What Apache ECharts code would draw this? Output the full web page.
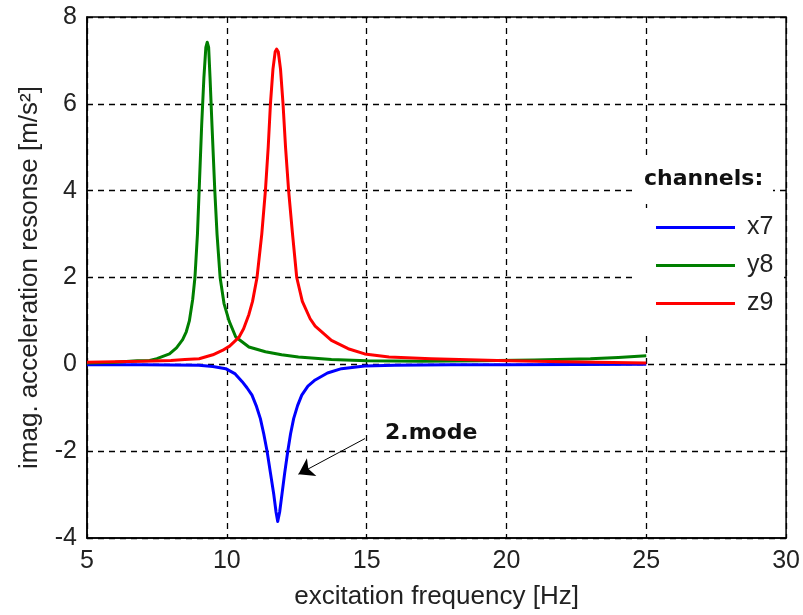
<!DOCTYPE html>
<html>
<head>
<meta charset="utf-8">
<script src="https://cdn.jsdelivr.net/npm/echarts@6/dist/echarts.min.js"></script>
<style>html,body{margin:0;padding:0;background:#fff}#c{width:803px;height:615px}</style>
</head>
<body>
<div id="c"></div>
<script>
var xTicks = [5, 10, 15, 20, 25, 30];
var yTicks = [-4, -2, 0, 2, 4, 6, 8];

var x7Freq = [5, 7, 8, 9, 9.5, 9.96, 10.3, 10.55, 10.72, 10.9, 11.05, 11.2, 11.32, 11.44, 11.56, 11.68, 11.76, 11.82, 11.89, 11.97, 12.07, 12.18, 12.28, 12.39, 12.53, 12.68, 12.9, 13.16, 13.6, 14.1, 14.93, 16, 18, 20, 25];
var x7Val  = [-0.01, -0.01, -0.015, -0.02, -0.05, -0.1, -0.22, -0.4, -0.54, -0.71, -0.95, -1.25, -1.6, -2.0, -2.5, -3.0, -3.4, -3.62, -3.4, -3.0, -2.5, -2.0, -1.6, -1.25, -0.95, -0.71, -0.5, -0.36, -0.2, -0.1, -0.04, -0.02, -0.01, -0.01, 0];

var y8Freq = [5, 6, 6.8, 7.24, 7.5, 7.95, 8.2, 8.42, 8.55, 8.66, 8.78, 8.86, 8.95, 9.01, 9.1, 9.18, 9.25, 9.3, 9.35, 9.4, 9.47, 9.57, 9.65, 9.76, 9.9, 10.08, 10.32, 10.79, 11.38, 11.96, 12.56, 13.74, 15, 17, 19, 21, 23, 24, 25];
var y8Val  = [0.03, 0.05, 0.08, 0.09, 0.13, 0.24, 0.38, 0.57, 0.75, 1.0, 1.5, 2.0, 3.0, 4.0, 5.5, 6.6, 7.3, 7.42, 7.3, 6.6, 5.5, 4.0, 3.0, 2.0, 1.4, 1.0, 0.63, 0.4, 0.29, 0.22, 0.17, 0.11, 0.08, 0.07, 0.08, 0.1, 0.13, 0.16, 0.2];

var z9Freq = [5, 6, 7, 8, 8.5, 9.01, 9.5, 9.84, 10.1, 10.43, 10.6, 10.79, 10.92, 11.08, 11.25, 11.38, 11.48, 11.56, 11.65, 11.73, 11.78, 11.84, 11.92, 12.01, 12.1, 12.21, 12.35, 12.5, 12.7, 12.98, 13.16, 13.74, 14.34, 14.93, 15.8, 17.3, 19.67, 22, 25];
var z9Val  = [0.05, 0.06, 0.07, 0.09, 0.11, 0.13, 0.22, 0.32, 0.42, 0.62, 0.82, 1.15, 1.45, 2.0, 3.0, 4.0, 5.0, 6.0, 6.8, 7.2, 7.26, 7.2, 6.8, 6.0, 5.0, 4.0, 3.0, 2.0, 1.45, 1.05, 0.88, 0.55, 0.36, 0.24, 0.17, 0.13, 0.09, 0.06, 0.03];

var seriesNames = ['x7', 'y8', 'z9'];
var seriesColors = ['#0000ff', '#007f00', '#ff0000'];

var arrowFrom = [14.94, -1.71];
var arrowTo = [12.56, -2.53];

function pairs(xs, ys) { return xs.map(function (x, i) { return [x, ys[i]]; }); }

var textColor = '#222';
var font = 'Liberation Sans';

var chart = echarts.init(document.getElementById('c'), null, {renderer: 'canvas'});
var datasets = [pairs(x7Freq, x7Val), pairs(y8Freq, y8Val), pairs(z9Freq, z9Val)];

var series = seriesNames.map(function (n, i) {
  var s = {
    name: n, type: 'line', data: datasets[i], showSymbol: false, symbol: 'none',
    lineStyle: {color: seriesColors[i], width: 3, join: 'round'}, itemStyle: {color: seriesColors[i]},
    z: 2, animation: false
  };
  if (i === 0) {
    s.markLine = {
      silent: true, animation: false, symbol: ['none', 'arrow'], symbolSize: 15,
      label: {show: false},
      lineStyle: {color: '#000', width: 1, type: 'solid'},
      emphasis: {disabled: true},
      data: [[{coord: arrowFrom}, {coord: arrowTo}]]
    };
  }
  return s;
});

var option = {
  animation: false,
  backgroundColor: '#fff',
  grid: {left: 87, right: 12, top: 17, bottom: 75, show: true, borderColor: '#000', borderWidth: 1.5, backgroundColor: 'transparent'},
  xAxis: {
    type: 'value', min: xTicks[0], max: xTicks[xTicks.length - 1], interval: 5,
    name: 'excitation frequency [Hz]', nameLocation: 'middle', nameGap: 46,
    nameTextStyle: {fontFamily: font, fontSize: 26, color: textColor},
    axisLine: {show: true, onZero: false, lineStyle: {color: '#000', width: 1.5}},
    axisTick: {show: false},
    axisLabel: {fontFamily: font, fontSize: 25, color: textColor, margin: 11},
    splitLine: {show: true, lineStyle: {color: '#000', width: 1.3, type: [6, 5]}}
  },
  yAxis: {
    type: 'value', min: yTicks[0], max: yTicks[yTicks.length - 1], interval: 2,
    name: 'imag. acceleration resonse [m/s²]', nameLocation: 'middle', nameGap: 44,
    nameTextStyle: {fontFamily: font, fontSize: 26, color: textColor},
    axisLine: {show: true, onZero: false, lineStyle: {color: '#000', width: 1.5}},
    axisTick: {show: false},
    axisLabel: {fontFamily: font, fontSize: 25, color: textColor, margin: 10},
    splitLine: {show: true, lineStyle: {color: '#000', width: 1.3, type: [6, 5]}}
  },
  legend: {
    data: seriesNames, orient: 'vertical', left: 656, top: 215, padding: 0,
    itemWidth: 79, itemHeight: 3, itemGap: 13, icon: 'rect',
    textStyle: {fontFamily: font, fontSize: 25, lineHeight: 25, color: textColor, padding: [0, 0, 0, 7]},
    selectedMode: false, z: 6
  },
  graphic: [
    {type: 'rect', z: 4, silent: true, shape: {x: 632, y: 158, width: 141, height: 42}, style: {fill: '#fff'}},
    {type: 'rect', z: 4, silent: true, shape: {x: 634, y: 208, width: 150, height: 123}, style: {fill: '#fff'}},
    {type: 'text', z: 10, silent: true, left: 644, top: 168, style: {text: 'channels:', font: 'bold 22px "DejaVu Sans"', fill: '#111'}},
    {type: 'text', z: 10, silent: true, left: 385, top: 422, style: {text: '2.mode', font: 'bold 22px "DejaVu Sans"', fill: '#111'}}
  ],
  series: series
};
chart.setOption(option);
</script>
</body>
</html>
